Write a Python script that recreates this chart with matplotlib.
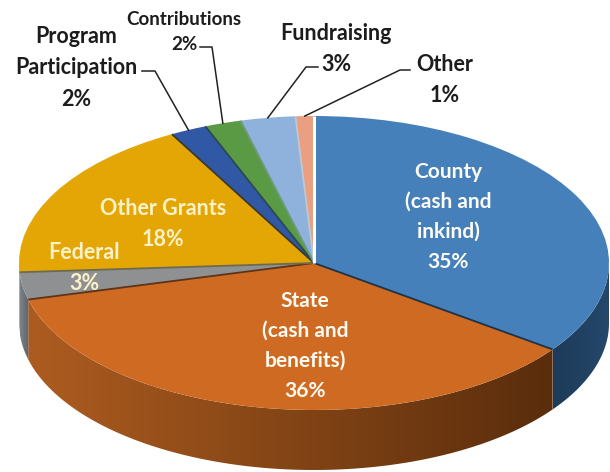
import numpy as np
import matplotlib
matplotlib.use("Agg")
import matplotlib.pyplot as plt
from matplotlib.patches import Polygon
from matplotlib.colors import LinearSegmentedColormap

values = [35, 36, 3, 18, 2, 2, 3, 1]
top_colors = ["#4580bb", "#cf6a23", "#8f9092", "#e3a605", "#3058a5", "#5b9a45", "#8fb2dc", "#e99f80"]
side_left = ["#1e3a58", "#ad5c20", "#7d8489", "#9a7203", "#203a70", "#3d6a2e", "#5f7a98", "#a06e58"]
side_right = ["#24486c", "#5a2d0c", "#5c6268", "#9a7203", "#203a70", "#3d6a2e", "#5f7a98", "#a06e58"]
# colour of the line at the end of each slice
edge_colors = ["#1f3347", "#5c3418", "#6e6a50", "#3a3a30", "#2a4a50", "#6f9a80", "#c0c8d0", "#ffffff"]

# centre and radii of the pie, in pixels of the 610x472 picture
cx, cy, rx, ry = 314, 263, 295, 147
depth = 60 / ry

fig = plt.figure(figsize=(6.1, 4.72), dpi=100)
ax = fig.add_axes([0, 0, 1, 1])
plt.rcParams["font.family"] = ["Lato", "DejaVu Sans"]


def px(x, y):
    return (x - cx) / rx, (cy - y) / ry


fracs = np.cumsum([0] + values) / sum(values)
angles = np.pi / 2 - 2 * np.pi * fracs

# side wall, only the part in the front half
for i in range(len(values)):
    a0 = max(angles[i + 1], -np.pi)
    a1 = min(angles[i], 0)
    if a1 <= a0:
        continue
    t = np.linspace(a0, a1, 80)
    xs = np.cos(t)
    ys = np.sin(t)
    pts = np.vstack([np.column_stack([xs, ys]), np.column_stack([xs[::-1], ys[::-1] - depth])])
    poly = Polygon(pts, closed=True, facecolor="none", edgecolor="none")
    ax.add_patch(poly)
    cmap = LinearSegmentedColormap.from_list("side", [side_left[i], side_right[i]])
    im = ax.imshow(np.linspace(0, 1, 200)[None, :], cmap=cmap, aspect="auto",
                   extent=[xs.min(), xs.max(), -1 - depth, 0.2], zorder=1)
    im.set_clip_path(poly)

wedges, _ = ax.pie(values, colors=top_colors, startangle=90, counterclock=False,
                   radius=1, center=(0, 0), wedgeprops={"linewidth": 0, "zorder": 2})

# lines between the slices
for i, a in enumerate(angles[1:]):
    ax.plot([0, np.cos(a)], [0, np.sin(a)], color=edge_colors[i], lw=1.3 if i != 7 else 2.2,
            zorder=3, solid_capstyle="butt")

ax.set_aspect("auto")
ax.set_xlim(-cx / rx, (610 - cx) / rx)
ax.set_ylim((cy - 472) / ry, cy / ry)
ax.axis("off")

# leader lines run from the rim of a slice to an elbow next to its label
leaders = {
    4: [(155, 71), (142, 71)],
    5: [(212, 47), (200, 47)],
    6: [(306, 67), (318, 67)],
    7: [(400, 70), (410, 70)],
}
for i, pts in leaders.items():
    mid = (angles[i] + angles[i + 1]) / 2
    rim = (np.cos(mid), np.sin(mid))
    line = [rim] + [px(*p) for p in pts]
    ax.plot([p[0] for p in line], [p[1] for p in line], color="#222222", lw=1.1, zorder=4)

white = "#fdfbf2"
dark = "#1c1c1c"
labels = [
    ("County\n(cash and\ninkind)\n35%", 448, 217, white, 15, 1.62),
    ("State\n(cash and\nbenefits)\n36%", 305, 346, white, 15, 1.62),
    ("Other Grants\n18%", 163, 224, "#fbf1c8", 15.5, 1.6),
    ("Federal\n3%", 84, 268, "#fbf1c8", 15.5, 1.6),
    ("Program\nParticipation\n2%", 76, 68, dark, 15.5, 1.6),
    ("Contributions\n2%", 184, 32, dark, 13.5, 1.6),
    ("Fundraising\n3%", 336, 49, dark, 15.5, 1.6),
    ("Other\n1%", 445, 80, dark, 15.5, 1.6),
]
for text, x, y, color, size, spacing in labels:
    tx, ty = px(x, y)
    ax.text(tx, ty, text, ha="center", va="center", color=color, fontsize=size,
            fontweight="bold", linespacing=spacing, zorder=5)

fig.savefig("out.png", dpi=100, facecolor="white")
